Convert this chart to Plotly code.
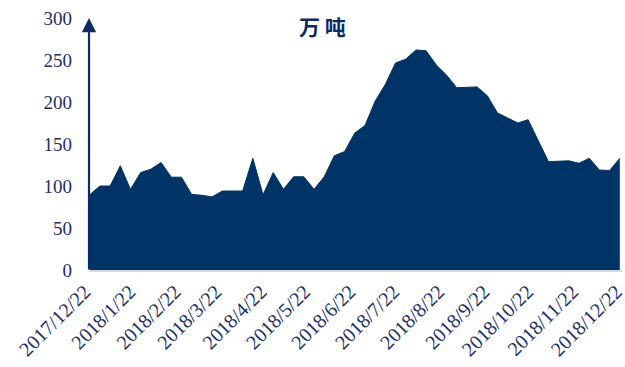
import pandas as pd
import plotly.graph_objects as go

# Weekly series, 10k tonnes
dates = pd.date_range("2017-12-22", periods=53, freq="7D")
values = [
    89.5, 100, 100, 124, 96, 116, 120, 128, 110.5, 110.5,
    90, 89, 87, 94, 94, 94, 133, 89.5, 116, 96,
    111, 111, 96, 111, 136, 141, 163, 172, 201, 221,
    246.5, 251, 262, 261, 244, 232, 217, 217.5, 218, 207.5,
    187, 181, 175, 179, 154, 129, 129.5, 130, 127, 133,
    119, 118.5, 133,
]

tick_dates = pd.to_datetime([
    "2017-12-22", "2018-01-22", "2018-02-22", "2018-03-22", "2018-04-22",
    "2018-05-22", "2018-06-22", "2018-07-22", "2018-08-22", "2018-09-22",
    "2018-10-22", "2018-11-22", "2018-12-22",
])
tick_text = [f"{d.year}/{d.month}/{d.day}" for d in tick_dates]
y_ticks = [0, 50, 100, 150, 200, 250, 300]

NAVY = "#003366"
TEXT = "#1c2f66"
SERIF = "Liberation Serif, Times New Roman, serif"

fig = go.Figure()
fig.add_trace(go.Scatter(
    x=dates, y=values, mode="lines", fill="tozeroy",
    fillcolor=NAVY, line=dict(color=NAVY, width=1),
    hoverinfo="skip", showlegend=False,
))

# y axis drawn as an upward arrow
fig.add_annotation(
    xref="paper", yref="paper", x=0, y=1.0,
    axref="pixel", ayref="pixel", ax=0, ay=253,
    showarrow=True, arrowhead=2, arrowsize=1.3, arrowwidth=2.2,
    arrowcolor="#0d2a66", text="",
)

fig.add_annotation(
    xref="paper", yref="paper", x=0.438, y=0.97,
    text="<b>万 吨</b>", showarrow=False,
    font=dict(family="Noto Sans CJK SC", size=21, color="#0d2a66"),
    xanchor="center", yanchor="middle",
)

fig.update_layout(
    width=625, height=367,
    margin=dict(l=89, r=3, t=18, b=97),
    paper_bgcolor="white", plot_bgcolor="white",
    font=dict(family=SERIF, color=TEXT, size=19),
    xaxis=dict(
        range=[dates[0] - pd.Timedelta(hours=12), pd.Timestamp("2018-12-22 12:00")],
        tickvals=tick_dates, ticktext=tick_text, tickangle=-45,
        tickfont=dict(family=SERIF, size=20, color=TEXT),
        showgrid=False, zeroline=False,
        showline=True, linecolor="#d9d9d9", linewidth=2,
        ticks="", ticklabelstandoff=0, ticklabelshift=-5, automargin=False,
        ticklabeloverflow="allow",
    ),
    yaxis=dict(
        range=[0, 300], tickvals=y_ticks,
        tickfont=dict(family=SERIF, size=19, color=TEXT),
        showgrid=False, zeroline=False, showline=False,
        ticks="", ticklabelstandoff=16, automargin=False,
    ),
)

fig.write_html("out.html")
